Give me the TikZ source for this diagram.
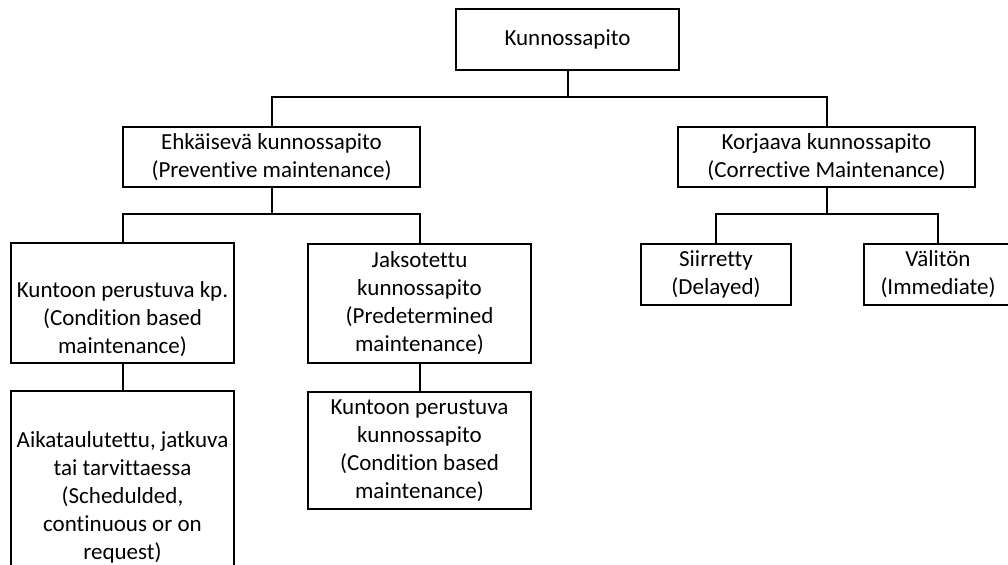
\documentclass[tikz,border=0pt]{standalone}
\usepackage{fontspec}
\setmainfont[Ligatures=NoCommon]{Carlito}
\usepackage{tikz}
\usetikzlibrary{positioning,calc}

\begin{document}
\begin{tikzpicture}[
  x=0.5pt, y=-0.5pt,
  box/.style={draw, line width=1pt, align=center, inner sep=0pt,
    font=\fontsize{11.5}{14}\selectfont},
  conn/.style={line width=1pt}
]
\useasboundingbox (0,0) rectangle (1008,564);
\clip (0,0) rectangle (1008,564);
% top level
\node[box, minimum width=111.5pt, minimum height=30.5pt] (top) at (567.5,39.5) {Kunnossapito};
% second level
\node[box, minimum width=148.5pt, minimum height=30pt] (prev) at (271.5,157)
  {Ehkäisevä kunnossapito\\(Preventive maintenance)};
\node[box, minimum width=148.5pt, minimum height=30pt] (corr) at (826.5,157)
  {Korjaava kunnossapito\\(Corrective Maintenance)};
% third level
\node[box, minimum width=111.5pt, minimum height=60pt] (cond) at (122.5,303)
  {\strut\\Kuntoon perustuva kp.\\(Condition based\\maintenance)};
\node[box, minimum width=111.5pt, minimum height=59.5pt] (pred) at (419.5,303.5)
  {Jaksotettu\\kunnossapito\\(Predetermined\\maintenance)};
\node[box, minimum width=75pt, minimum height=30.5pt] (del) at (716,274.5)
  {Siirretty\\(Delayed)};
\node[box, minimum width=74pt, minimum height=30.5pt] (imm) at (938,274.5)
  {Välitön\\(Immediate)};
% fourth level
\node[box, minimum width=111.5pt, minimum height=91pt] (sched) at (122.5,482)
  {\strut\\Aikataulutettu, jatkuva\\tai tarvittaessa\\(Schedulded,\\continuous or on\\request)};
\node[box, minimum width=111.5pt, minimum height=58.5pt] (cbm) at (419.5,450.5)
  {Kuntoon perustuva\\kunnossapito\\(Condition based\\maintenance)};
% connectors
\coordinate (b1) at (567.5,97);
\coordinate (b2) at (271.5,214);
\coordinate (b3) at (826.5,214);
\draw[conn] (top.south) -- (b1) -| (prev.north);
\draw[conn] (b1) -| (corr.north);
\draw[conn] (prev.south) -- (b2) -| (cond.north);
\draw[conn] (b2) -| (pred.north);
\draw[conn] (corr.south) -- (b3) -| (del.north);
\draw[conn] (b3) -| (imm.north);
\draw[conn] (cond.south) -- (sched.north);
\draw[conn] (pred.south) -- (cbm.north);
\end{tikzpicture}
\end{document}
